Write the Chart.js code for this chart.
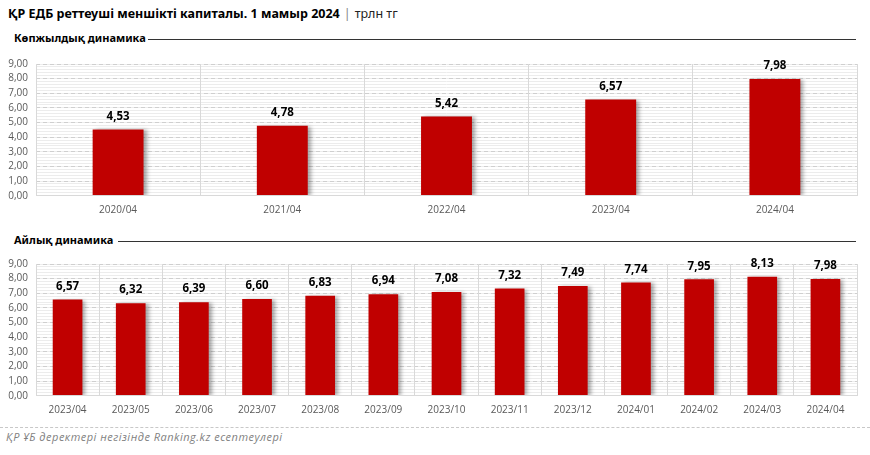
<!DOCTYPE html>
<html><head><meta charset="utf-8">
<script src="https://cdn.jsdelivr.net/npm/chart.js@4.4.1/dist/chart.umd.min.js"></script>
<style>
html,body{margin:0;padding:0;background:#fff;width:870px;height:455px;overflow:hidden;position:relative;font-family:"Open Sans","Noto Sans",sans-serif;}
#title{position:absolute;left:8px;top:5px;font-size:12.5px;font-weight:bold;color:#000;white-space:nowrap;font-family:"Noto Sans",sans-serif;}
#title .unit{font-weight:normal;color:#222;}
#title .sep{font-weight:normal;color:#888;margin:0 4px;}
.sub{position:absolute;left:14px;font-size:11px;font-weight:bold;color:#000;font-family:"Noto Sans",sans-serif;white-space:nowrap;}
.subline{position:absolute;height:1px;background:#333;right:14px;}
.cv{position:absolute;left:0;}
#foot{position:absolute;left:6px;top:429px;font-size:11px;letter-spacing:0.5px;font-style:italic;color:#7f7f7f;font-family:"Open Sans",sans-serif;white-space:nowrap;}
#footline{position:absolute;left:0;width:870px;top:427px;border-top:1px dashed #c8c8c8;}
</style></head><body>
<div id="title">ҚР ЕДБ реттеуші меншікті капиталы. 1 мамыр 2024<span class="sep">|</span><span class="unit">трлн тг</span></div>
<div class="sub" style="top:30px">Көпжылдық динамика</div>
<div class="subline" style="top:39px;left:148px"></div>
<div class="sub" style="top:232px">Айлық динамика</div>
<div class="subline" style="top:241px;left:118px"></div>
<div class="cv" style="top:50px;width:870px;height:175px"><canvas id="c1"></canvas></div>
<div class="cv" style="top:250px;width:870px;height:175px"><canvas id="c2"></canvas></div>
<div id="footline"></div>
<div id="foot">ҚР ҰБ деректері негізінде Ranking.kz есептеулері</div>
<script>
const yearCategories = ["2020/04","2021/04","2022/04","2023/04","2024/04"];
const yearValues = [4.53, 4.78, 5.42, 6.57, 7.98];
const monthCategories = ["2023/04","2023/05","2023/06","2023/07","2023/08","2023/09","2023/10","2023/11","2023/12","2024/01","2024/02","2024/03","2024/04"];
const monthValues = [6.57, 6.32, 6.39, 6.60, 6.83, 6.94, 7.08, 7.32, 7.49, 7.74, 7.95, 8.13, 7.98];
const yMax = 9;

const fmt = v => v.toFixed(2).replace('.', ',');

const shadowPlugin = {
  id: 'shadow',
  beforeDatasetsDraw(chart){ const c = chart.ctx; c.save(); c.shadowColor='rgba(0,0,0,0.35)'; c.shadowBlur=4; c.shadowOffsetX=3; c.shadowOffsetY=1; },
  afterDatasetsDraw(chart){ chart.ctx.restore(); }
};
const labelPlugin = {
  id: 'vlabels',
  afterDraw(chart){
    const c = chart.ctx; c.save();
    c.font = 'bold 11.5px "Open Sans", sans-serif'; c.fillStyle = '#000'; c.textAlign='center'; c.textBaseline='middle';
    const meta = chart.getDatasetMeta(0);
    meta.data.forEach((bar, i) => {
      c.fillText(fmt(chart.data.datasets[0].data[i]), bar.x, bar.y - 13);
    });
    c.restore();
  }
};

function makeChart(id, cats, vals, barPct){
  return new Chart(document.getElementById(id), {
    type: 'bar',
    data: { labels: cats, datasets: [{ data: vals, backgroundColor: '#c00000', borderWidth: 0, categoryPercentage: 1, barPercentage: barPct }] },
    options: {
      responsive: true, maintainAspectRatio: false, animation: false,
      layout: { padding: { top: 11.7, right: 13, left: 0, bottom: 0 } },
      plugins: { legend: { display: false }, tooltip: { enabled: false } },
      scales: {
        x: {
          grid: { color: '#d9d9d9', lineWidth: 1, offset: true, drawTicks: false, z: 1 },
          border: { color: '#d9d9d9', z: 1 },
          ticks: { color: '#595959', font: { size: 10, family: '"Open Sans", sans-serif' }, padding: 8, maxRotation: 0, autoSkip: false },
          afterFit(s){ s.height = 29.3; }
        },
        yMinor: {
          position: 'left', min: 0, max: yMax,
          ticks: { display: false, stepSize: 0.2, autoSkip: false, maxTicksLimit: 100 },
          grid: { color: '#ececec', lineWidth: 1, drawTicks: false },
          border: { display: false },
          afterFit(s){ s.width = 0; }
        },
        y: {
          position: 'left', min: 0, max: yMax,
          ticks: { stepSize: 1, autoSkip: false, color: '#595959', font: { size: 10, family: '"Open Sans", sans-serif' }, padding: 8, callback: v => fmt(v) },
          grid: { color: '#cfcfcf', lineWidth: 1, drawTicks: false },
          border: { display: false, dash: [4, 3] },
          afterFit(s){ s.width = 36; }
        }
      }
    },
    plugins: [shadowPlugin, labelPlugin]
  });
}
makeChart('c1', yearCategories, yearValues, 0.31);
makeChart('c2', monthCategories, monthValues, 0.47);
</script>
</body></html>
